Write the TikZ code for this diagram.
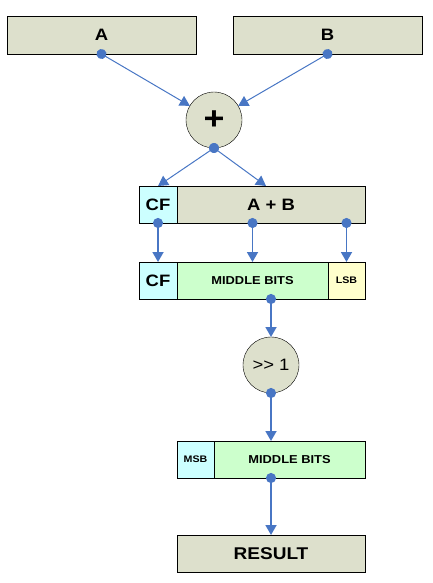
\documentclass[tikz,border=0pt]{standalone}
\usepackage{fontspec}
\setmainfont[FakeStretch=1.12]{Liberation Sans}
\usetikzlibrary{positioning,arrows.meta,calc}

\definecolor{boxgray}{RGB}{221,224,204}
\definecolor{cfcyan}{RGB}{204,255,255}
\definecolor{bitgreen}{RGB}{204,255,204}
\definecolor{lsbyellow}{RGB}{255,255,204}
\definecolor{linkblue}{RGB}{72,118,196}

\begin{document}
\begin{tikzpicture}
        [
            x = 1pt, y = -1pt,
            boxed/.style   = {shape=rectangle, draw, fill=boxgray, inner sep=0pt, outer sep=0pt,
                              minimum width=189pt, minimum height=38pt, font=\fontsize{16.5}{16.5}\selectfont\bfseries},
            cell/.style    = {boxed, minimum width=38pt, minimum height=37pt},
            opcircle/.style = {shape=circle, draw, fill=boxgray, inner sep=0pt, outer sep=0pt,
                              minimum size=56pt, font=\fontsize{16.5}{16.5}\selectfont},
            small/.style   = {font=\fontsize{11.5}{12}\selectfont\bfseries},
            tiny/.style    = {font=\fontsize{9.5}{10}\selectfont\bfseries},
            link/.style    = {draw=linkblue, line width=1pt, shorten <=-5pt,
                              {Circle[length=10pt,fill=linkblue]}-{Triangle[length=10pt,width=11pt,fill=linkblue]}},
            thick link/.style = {link, line width=1.8pt},
        ]
        \useasboundingbox (0,0) rectangle (433,583);

        % inputs
        \node [boxed] (a) at (101.5,35) {A};
        \node [boxed] (b) at (327.5,35) {B};
        \node [opcircle, font=\fontsize{32}{32}\selectfont\bfseries] (plus) at (214,120) {+};

        % sum with carry
        \node [boxed, minimum width=188pt, minimum height=37pt] (sum) at (271,204.5) {A + B};
        \node [cell, fill=cfcyan, left=0pt of sum] (cf1) {CF};

        % split
        \node [cell, fill=bitgreen, minimum width=151pt, small] (mid1) at (252.5,280.5) {MIDDLE BITS};
        \node [cell, fill=cfcyan, left=0pt of mid1] (cf2) {CF};
        \node [cell, fill=lsbyellow, right=0pt of mid1, minimum width=37pt, tiny] (lsb) {LSB};

        % shift
        \node [opcircle] (shift) at (271,365) {>\kern0pt> 1};

        \node [cell, fill=bitgreen, minimum width=151pt, small] (mid2) at (289.5,459.5) {MIDDLE BITS};
        \node [cell, fill=cfcyan, left=0pt of mid2, minimum width=37pt, tiny] (msb) {MSB};

        \node [boxed, minimum width=188pt, minimum height=37pt, font=\fontsize{17}{17}\selectfont\bfseries] (res) at (271,553.5) {RESULT};

        % connectors
        \draw [link] (a.south) -- (plus);
        \draw [link] (b.south) -- (plus);
        \draw [link] (plus.south) -- (cf1.north);
        \draw [link] (plus.south) -- ([xshift=-5pt]sum.north);
        \draw [thick link] (cf1.south) -- (cf2.north);
        \draw [thick link] (sum.south -| mid1.north) -- (mid1.north);
        \draw [thick link] (sum.south -| lsb.north) -- (lsb.north);
        \draw [thick link] (mid1.south -| shift.north) -- (shift.north);
        \draw [thick link] (shift.south) -- (shift.south |- mid2.north);
        \draw [thick link] (shift.south |- mid2.south) -- (res.north);
    \end{tikzpicture}
\end{document}
